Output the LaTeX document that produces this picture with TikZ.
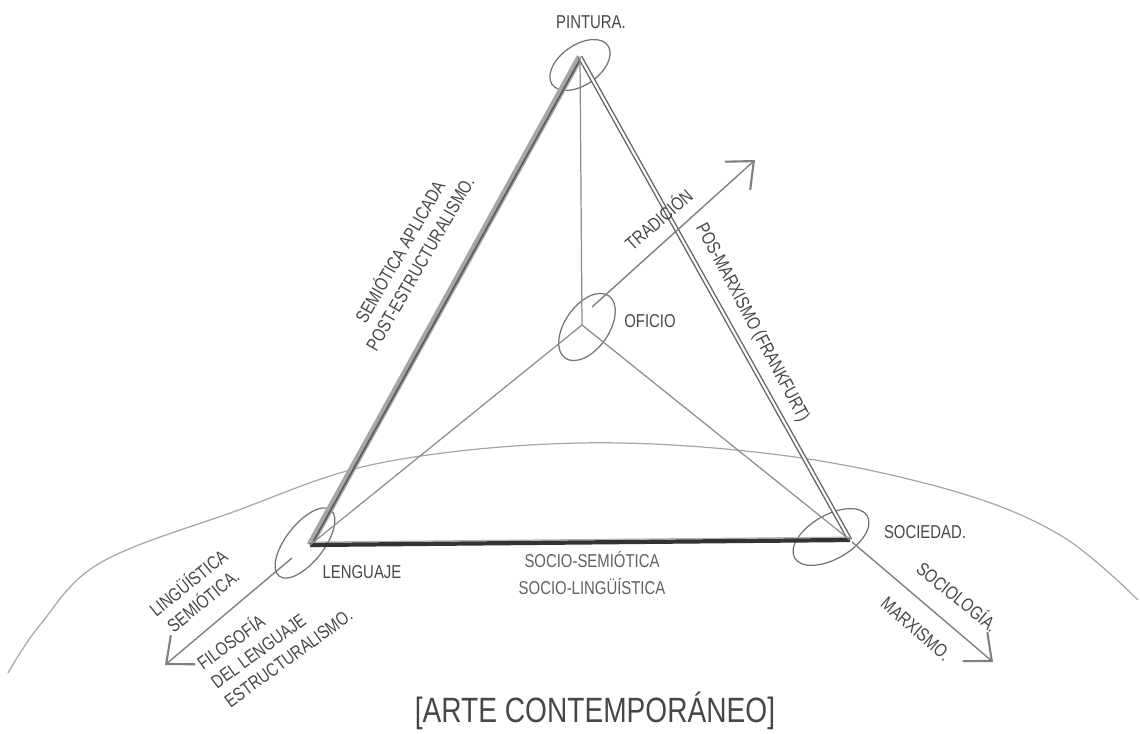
\documentclass[tikz,border=0pt]{standalone}
\usepackage{fontspec}
\setmainfont{Liberation Sans}[FakeStretch=0.8]
\usetikzlibrary{arrows.meta, positioning, shapes.geometric}
\tikzset{
  lbl/.style={text=black!72,font=\fontsize{5.3}{6.6}\selectfont,inner sep=1pt,align=center},
  ring/.style={ellipse,draw=black!55,line width=0.35pt,inner sep=0pt},
  thin/.style={draw=black!45,line width=0.35pt},
  pencilarrow/.style={draw=black!50,line width=0.4pt,-{Straight Barb[length=2.2mm,width=3.8mm,line width=0.6pt]}},
  leftedge/.style={draw=black!35,line width=2pt},
  rightedge/.style={draw=black!60,line width=0.4pt,double=white,double distance=0.6pt},
  baseedge/.style={draw=black!80,line width=1.2pt}
}
\begin{document}
\begin{tikzpicture}
\useasboundingbox (0,0) rectangle (11.40,7.33);
% vertices
\coordinate (pint) at (5.80,6.76);
\coordinate (leng) at (3.10,1.88);
\coordinate (soc) at (8.50,1.93);
\coordinate (ofi) at (5.82,4.08);
% rings around the vertices
\node[ring,minimum width=6.8mm,minimum height=4mm,rotate=35] (pintring) at (5.80,6.68) {};
\node[ring,minimum width=8.4mm,minimum height=3.8mm,rotate=52] (lengring) at (3.05,1.90) {};
\node[ring,minimum width=8.4mm,minimum height=4.4mm,rotate=30] (socring) at (8.31,1.96) {};
\node[ring,minimum width=7.6mm,minimum height=4.4mm,rotate=55] (ofiring) at (5.87,4.06) {};
% horizon
\draw[thin,draw=black!35] plot[smooth,tension=0.6] coordinates {(0.08,0.60) (0.40,1.08) (1.00,1.70) (2.33,2.21) (3.80,2.70) (5.80,2.90) (7.80,2.78) (9.50,2.43) (10.60,1.98) (11.38,1.33)};
% triangle
\draw[leftedge] (pint) -- (leng);
\draw[draw=black!65,line width=0.45pt] ([xshift=0.4pt]pint) -- ([xshift=0.4pt]leng);
\draw[rightedge] (pint) -- (soc);
\draw[draw=black!30,line width=0.35pt] ([yshift=0.8pt]leng) -- ([yshift=0.8pt]soc);
\draw[baseedge] (leng) -- (soc);
\draw[thin] (pint) -- (ofi);
\draw[thin] (ofi) -- (leng);
\draw[thin] (ofi) -- (soc);
% outward arrows
\coordinate (tradstart) at (5.92,4.26);
\coordinate (tradend) at (7.55,5.73);
\coordinate (lengstart) at (2.92,1.75);
\coordinate (lengend) at (1.65,0.68);
\coordinate (socstart) at (8.52,1.91);
\coordinate (socend) at (9.93,0.71);
\draw[pencilarrow] (tradstart) -- (tradend);
\draw[pencilarrow] (lengstart) -- (lengend);
\draw[pencilarrow] (socstart) -- (socend);
% labels
\node[lbl] (pintlbl) at (5.91,7.11) {PINTURA.};
\node[lbl,rotate=60] (leftlbl) at (4.09,4.76) {SEMIÓTICA APLICADA\\POST-ESTRUCTURALISMO.};
\node[lbl,rotate=41] (tradlbl) at (6.58,5.14) {TRADICIÓN};
\node[lbl,rotate=-62] (rightlbl) at (7.52,4.10) {POS-MARXISMO (FRANKFURT)};
\node[lbl] (ofilbl) at (6.50,4.12) {OFICIO};
\node[lbl] (lenglbl) at (3.62,1.61) {LENGUAJE};
\node[lbl,text=black!62] (baselbl) at (5.92,1.60) {SOCIO-SEMIÓTICA\\[0.4mm]SOCIO-LINGÜÍSTICA};
\node[lbl] (soclbl) at (9.25,2.01) {SOCIEDAD.};
\node[lbl,rotate=-39] (sociolbl) at (9.58,1.37) {SOCIOLOGÍA.};
\node[lbl,rotate=-41] (marxlbl) at (9.16,1.04) {MARXISMO.};
\node[lbl,rotate=39] (linglbl) at (1.95,1.42) {LINGÜÍSTICA\\SEMIÓTICA.};
\node[lbl,rotate=36,align=left] (filolbl) at (2.74,0.95) {FILOSOFÍA\\DEL LENGUAJE\\ESTRUCTURALISMO.};
\node[lbl,font=\fontsize{10}{12}\selectfont] (titlelbl) at (5.95,0.22) {[ARTE CONTEMPORÁNEO]};
\end{tikzpicture}
\end{document}
